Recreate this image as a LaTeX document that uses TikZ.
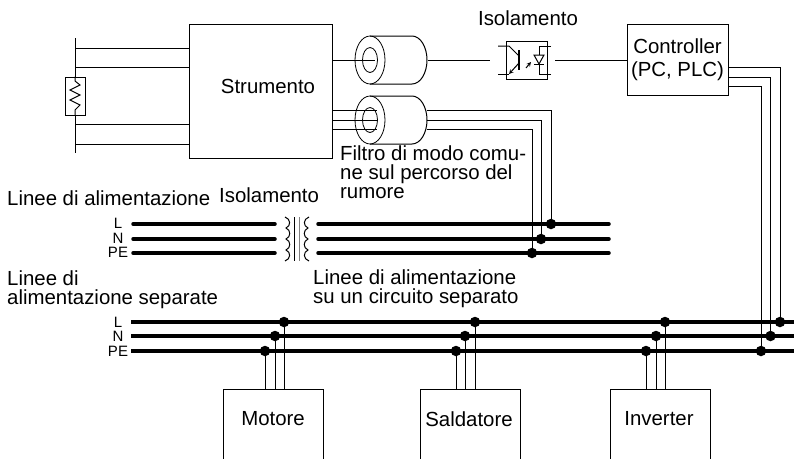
\documentclass[tikz,border=0pt]{standalone}
\usepackage{fontspec}
\setmainfont{Liberation Sans}
\usetikzlibrary{shapes,arrows,positioning,calc}

\begin{document}
\begin{tikzpicture}[
  x=1pt, y=-1pt, >=stealth,
  every node/.style={font=\fontsize{20.4}{19}\selectfont},
  box/.style={rectangle, draw, line width=1pt, inner sep=0pt, align=center},
  loadbox/.style={box, minimum width=100pt, minimum height=90pt},
  caption/.style={inner sep=0pt, align=left},
  tag/.style={inner sep=0pt, font=\fontsize{15}{15}\selectfont},
  wire/.style={line width=1pt},
  bus/.style={line width=3.5pt},
  dot/.style={circle, fill=black, inner sep=0pt, minimum size=10.5pt},
  ring/.style={ellipse, draw, line width=0.8pt, inner sep=0pt}
]
  \clip (0,0) rectangle (794,458);

  % instrument and sensor
  \node[box, minimum width=143pt, minimum height=134pt] (strumento) at (260.5,91) {};
  \node[inner sep=0pt] at (268,86) {Strumento};
  \node[box, line width=0.8pt, minimum width=20pt, minimum height=38pt] (sensor) at (75,96) {};
  \coordinate (railtop) at (75,38);
  \coordinate (railbot) at (75,153);
  \draw[wire] (railtop) -- (sensor.north);
  \draw[wire] (sensor.south) -- (railbot);
  \draw[wire] (sensor.north) -- (75,81) -- (80,85) -- (70,90) -- (80,95) -- (70,100) -- (80,105) -- (75,110) -- (sensor.south);
  \foreach \y in {48,67,124.5,144}
    \draw[wire] (75,\y) -- (strumento.west |- 0,\y);

  % ferrite cores
  \foreach \core/\y in {coreA/60,coreB/120} {
    \draw[wire] (370,\y-24) -- (412,\y-24) arc[start angle=90, end angle=-90, x radius=15pt, y radius=24pt] -- (370,\y+24);
    \node[ring, minimum width=30pt, minimum height=48pt] (\core) at (370,\y) {};
    \node[ring, minimum width=15pt, minimum height=25pt] (\core in) at (370,\y) {};
  }

  % optocoupler
  \node[box, line width=0.8pt, minimum width=41pt, minimum height=38pt] (opto) at (526.5,60) {};
  \node[inner sep=0pt] at (528,18) {Isolamento};
  \draw[wire] (498,46) -- (509,46) -- (519,56);
  \draw[wire] (498,74) -- (509,74);
  \draw[wire, ->] (519,63) -- (509,74);
  \draw[line width=1.2pt] (519,50) -- (519,70);
  \draw[wire] (551,46) -- (539,46) -- (539,55);
  \draw[wire] (551,74) -- (539,74) -- (539,64);
  \draw[wire] (534,55) -- (544,55) -- (539,64) -- cycle;
  \draw[wire] (534,64) -- (544,64);
  \draw[wire, ->] (526,68) -- (531,62);

  % controller
  \node[box, minimum width=101pt, minimum height=71pt] (controller) at (677.5,59.5) {Controller\\[4pt](PC, PLC)};
  \draw[wire] (strumento.east |- 0,60) -- (375,60);
  \draw[wire] (428,60) -- (490,60);
  \draw[wire] (555,60) -- (controller.west |- 0,60);

  % first supply line
  \node[caption, anchor=west] at (7,198) {Linee di alimentazione};
  \node[caption, anchor=west] at (219,195) {Isolamento};
  \node[tag] at (118,223) {L};
  \node[tag] at (118,238) {N};
  \node[tag] at (118,252) {PE};
  \draw[bus, line cap=round] (133,224) -- (275,224);
  \draw[bus, line cap=round] (133,239) -- (275,239);
  \draw[bus, line cap=round] (133,253) -- (275,253);
  \draw[bus, line cap=round] (318,224) -- (609,224);
  \draw[bus, line cap=round] (318,239) -- (609,239);
  \draw[bus, line cap=round] (318,253) -- (609,253);
  \node[dot] (filterL) at (551,224) {};
  \node[dot] (filterN) at (541,239) {};
  \node[dot] (filterPE) at (532,253) {};
  \draw[wire] (332,110) -- (377,110);
  \draw[wire] (332,120) -- (377,120);
  \draw[wire] (332,129) -- (377,129);
  \draw[wire] (427,110) -| (filterL);
  \draw[wire] (427,120) -| (filterN);
  \draw[wire] (427,129) -| (filterPE);

  % transformer
  \draw[wire] (285,217) .. controls (291,219) and (291,226) .. (286,228) .. controls (291,230) and (291,237) .. (286,239) .. controls (291,241) and (291,248) .. (286,250) .. controls (291,252) and (291,259) .. (285,261);
  \draw[wire] (309,217) .. controls (303,219) and (303,226) .. (308,228) .. controls (303,230) and (303,237) .. (308,239) .. controls (303,241) and (303,248) .. (308,250) .. controls (303,252) and (303,259) .. (309,261);
  \draw[wire] (294,217) -- (294,261);
  \draw[wire, black!50] (299,217) -- (299,261);

  % texts
  \node[caption, anchor=north west] at (340,146) {Filtro di modo comu-\\ne sul percorso del\\rumore};
  \node[caption, anchor=north west] at (313,270) {Linee di alimentazione\\su un circuito separato};
  \node[caption, anchor=north west] at (7,271) {Linee di\\alimentazione separate};

  % separate supply line
  \node[tag] at (118,322) {L};
  \node[tag] at (118,336) {N};
  \node[tag] at (118,351) {PE};
  \draw[bus] (131,322) -- (794,322);
  \draw[bus] (131,336) -- (794,336);
  \draw[bus] (131,351) -- (794,351);

  % loads
  \node[loadbox, anchor=north west] (motore) at (223,389) {};
  \node[loadbox, right=96pt of motore] (saldatore) {};
  \node[loadbox, right=89pt of saldatore] (inverter) {};
  \node[inner sep=0pt] at (273,419) {Motore};
  \node[inner sep=0pt] at (469,419) {Saldatore};
  \node[inner sep=0pt] at (659,419) {Inverter};
  \foreach \load/\xl/\xn/\xp in {motore/284/275/265,saldatore/475/465/456,inverter/665/656/646} {
    \node[dot] (\load L) at (\xl,322) {};
    \node[dot] (\load N) at (\xn,336) {};
    \node[dot] (\load PE) at (\xp,351) {};
    \draw[wire] (\load L) -- (\load L |- \load.north);
    \draw[wire] (\load N) -- (\load N |- \load.north);
    \draw[wire] (\load PE) -- (\load PE |- \load.north);
  }

  % controller supply
  \node[dot] (ctrlL) at (780,322) {};
  \node[dot] (ctrlN) at (770.5,336) {};
  \node[dot] (ctrlPE) at (761,351) {};
  \draw[wire] (controller.east |- 0,67) -| (ctrlL);
  \draw[wire] (controller.east |- 0,77) -| (ctrlN);
  \draw[wire] (controller.east |- 0,86) -| (ctrlPE);
\end{tikzpicture}
\end{document}
